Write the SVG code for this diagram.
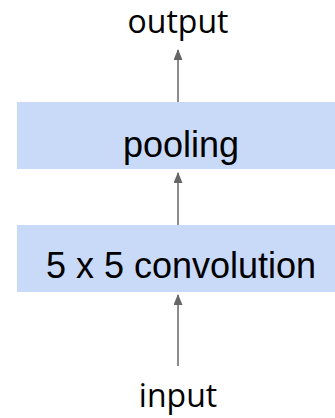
<svg xmlns="http://www.w3.org/2000/svg" width="335" height="418" viewBox="0 0 335 418">
<style>
.box{fill:#c9daf8;stroke:none}
.lbl{font-family:"Liberation Sans",Arial,sans-serif;font-size:36px;fill:#000;text-anchor:middle}
.io{font-family:"Open Sans","Noto Sans",sans-serif;font-size:32px;fill:#000;text-anchor:middle}
.edge{stroke:#666;stroke-width:1.5;fill:none;marker-end:url(#arr)}
</style>
<defs>
<marker id="arr" viewBox="0 0 11 9" refX="10" refY="4.5" markerWidth="11" markerHeight="9" markerUnits="userSpaceOnUse" orient="auto">
<path d="M0,0 L11,4.5 L0,9 z" fill="#666"/>
</marker>
</defs>
<rect width="335" height="418" fill="#fff"/>
<g id="connectors">
<line class="edge" x1="178" y1="102" x2="178" y2="50"/>
<line class="edge" x1="178" y1="225" x2="178" y2="173"/>
<line class="edge" x1="178" y1="366" x2="178" y2="295"/>
</g>
<g id="output"><text class="io" x="178" y="33">output</text></g>
<g id="pooling"><rect class="box" x="17" y="102" width="318" height="67"/><text class="lbl" x="181" y="157">pooling</text></g>
<g id="conv"><rect class="box" x="17" y="225" width="318" height="67"/><text class="lbl" x="181" y="278">5 x 5 convolution</text></g>
<g id="input"><text class="io" x="178" y="407">input</text></g>
</svg>
